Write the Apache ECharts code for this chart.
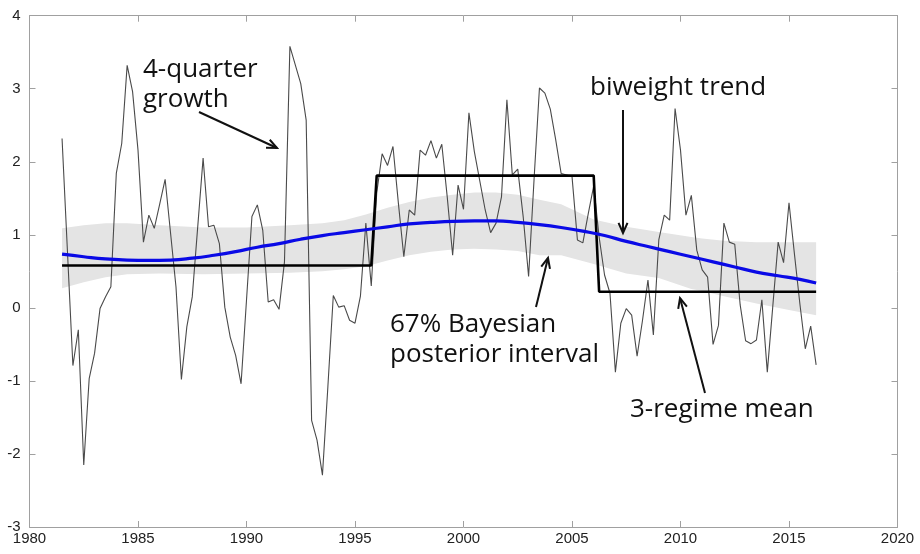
<!DOCTYPE html>
<html>
<head>
<meta charset="utf-8">
<script src="https://cdn.jsdelivr.net/npm/echarts@6/dist/echarts.min.js"></script>
<style>
html,body{margin:0;padding:0;background:#fff;}
#main{width:920px;height:554px;}
</style>
</head>
<body>
<div id="main"></div>
<script>
// ---- data ----
const growthYears = [
1981.5,1982.0,1982.25,1982.5,1982.75,1983.0,1983.25,1983.5,1983.75,1984.0,1984.25,1984.5,1984.75,1985.0,1985.25,1985.5,1985.75,1986.0,1986.25,1986.75,
1987.0,1987.25,1987.5,1988.0,1988.25,1988.5,1988.75,1989.0,1989.25,1989.5,1989.75,1990.25,1990.5,1990.75,1991.0,1991.25,1991.5,1991.75,1992.0,1992.5,
1992.75,1993.0,1993.25,1993.5,1993.75,1994.0,1994.25,1994.5,1994.75,1995.0,1995.25,1995.5,1995.75,1996.0,1996.25,1996.5,1996.75,1997.0,1997.25,1997.5,
1997.75,1998.0,1998.25,1998.5,1998.75,1999.0,1999.25,1999.5,1999.75,2000.0,2000.25,2000.5,2001.0,2001.25,2001.5,2001.75,2002.0,2002.25,2002.5,2002.75,
2003.0,2003.25,2003.5,2003.75,2004.0,2004.25,2004.5,2004.75,2005.0,2005.25,2005.5,2005.75,2006.0,2006.25,2006.5,2006.75,2007.0,2007.25,2007.5,2007.75,
2008.0,2008.25,2008.5,2008.75,2009.0,2009.25,2009.5,2009.75,2010.0,2010.25,2010.5,2010.75,2011.0,2011.25,2011.5,2011.75,2012.0,2012.25,2012.5,2012.75,
2013.0,2013.25,2013.5,2013.75,2014.0,2014.25,2014.5,2014.75,2015.0,2015.25,2015.5,2015.75,2016.0,2016.25];
const growthValues = [
2.32,-0.79,-0.30,-2.15,-0.97,-0.62,-0.01,0.15,0.29,1.84,2.25,3.32,2.96,2.16,0.90,1.27,1.09,1.42,1.76,0.29,
-0.98,-0.26,0.15,2.05,1.11,1.13,0.88,0.01,-0.40,-0.65,-1.04,1.25,1.41,1.06,0.08,0.11,-0.02,0.63,3.58,3.07,
2.57,-1.54,-1.81,-2.29,-1.08,0.17,0.01,0.03,-0.17,-0.21,0.16,1.16,0.30,1.57,2.11,1.95,2.21,1.43,0.70,1.34,
1.27,2.16,2.09,2.29,2.05,2.24,1.52,0.72,1.68,1.35,2.67,2.14,1.34,1.03,1.16,1.52,2.85,1.82,1.90,1.25,
0.43,1.75,3.01,2.94,2.72,2.30,1.84,1.82,1.80,0.93,0.89,1.29,1.67,0.97,0.45,0.20,-0.88,-0.21,-0.01,-0.10,
-0.66,-0.17,0.38,-0.37,0.93,1.27,1.20,2.73,2.16,1.27,1.54,0.79,0.52,0.42,-0.50,-0.24,1.16,0.90,0.87,0.04,
-0.45,-0.49,-0.44,0.11,-0.88,0.01,0.90,0.62,1.44,0.74,0.06,-0.56,-0.25,-0.78];

const trendYears = [1981.5,1982.5,1983.5,1984.5,1985.5,1986.5,1987.5,1988.5,1989.5,1990.5,1991.5,1992.5,1993.5,1994.5,1995.5,1996.5,1997.5,1998.5,
1999.5,2000.5,2001.5,2002.5,2003.5,2004.5,2005.5,2006.5,2007.5,2008.5,2009.5,2010.5,2011.5,2012.5,2013.5,2014.5,2015.5,2016.25];
const trendValues = [0.735,0.70,0.67,0.655,0.65,0.655,0.68,0.72,0.77,0.83,0.88,0.94,0.99,1.03,1.07,1.11,1.15,1.17,
1.185,1.19,1.19,1.17,1.14,1.10,1.05,0.99,0.91,0.84,0.77,0.70,0.63,0.56,0.49,0.44,0.39,0.34];

const bandYears = [1981.5,1982.5,1983.5,1984.5,1986.0,1988.0,1990.0,1992.0,1993.5,1994.5,1995.5,1996.5,1997.5,1998.5,1999.5,2000.5,2001.5,2002.5,
2003.5,2004.5,2006.0,2007.5,2009.0,2010.5,2011.0,2012.0,2013.5,2015.0,2016.25];
const bandUpper = [1.09,1.13,1.16,1.16,1.13,1.10,1.10,1.13,1.16,1.20,1.28,1.37,1.45,1.51,1.55,1.58,1.58,1.55,
1.48,1.42,1.21,1.11,1.04,0.97,0.95,0.92,0.90,0.90,0.90];
const bandLower = [0.27,0.35,0.42,0.46,0.47,0.46,0.47,0.48,0.50,0.53,0.57,0.65,0.72,0.77,0.80,0.81,0.80,0.78,
0.72,0.72,0.60,0.47,0.41,0.26,0.23,0.16,0.06,-0.03,-0.10];

const regimeYears = [1981.5,1995.75,1996.0,2006.0,2006.25,2016.25];
const regimeValues = [0.58,0.58,1.81,1.81,0.22,0.22];

const xTicks = {min:1980,max:2020,step:5};
const yTicks = {min:-3,max:4,step:1};

// ---- build ----
const pairs = (xs, ys) => xs.map((x,i)=>[x, ys[i]]);
const bandRows = bandYears.map((y,i)=>[y, bandUpper[i], bandLower[i]]);

const axisGrey = '#a0a0a0';
const labelStyle = {color:'#222', fontSize:15, fontFamily:'Liberation Sans, Arial, sans-serif', formatter:(v)=>String(v)};
function axisCommon(extra){
  return Object.assign({
    axisLine:{show:true, onZero:false, lineStyle:{color:axisGrey, width:1}},
    axisTick:{show:true, inside:true, length:6, lineStyle:{color:axisGrey}},
    splitLine:{show:false}, z:10
  }, extra);
}

const chart = echarts.init(document.getElementById('main'), null, {renderer:'canvas'});
chart.setOption({
  animation:false,
  backgroundColor:'#fff',
  grid:{left:29.5, right:22.5, top:15.7, bottom:27, containLabel:false},
  xAxis:[
    axisCommon({type:'value', min:xTicks.min, max:xTicks.max, interval:xTicks.step, position:'bottom',
      axisLabel:Object.assign({margin:4}, labelStyle)}),
    axisCommon({type:'value', min:xTicks.min, max:xTicks.max, interval:xTicks.step, position:'top',
      axisLabel:{show:false}})
  ],
  yAxis:[
    axisCommon({type:'value', min:yTicks.min, max:yTicks.max, interval:yTicks.step, position:'left',
      axisLabel:Object.assign({margin:9}, labelStyle)}),
    axisCommon({type:'value', min:yTicks.min, max:yTicks.max, interval:yTicks.step, position:'right',
      axisLabel:{show:false}})
  ],
  series:[
    {name:'67% posterior interval', type:'custom', data:bandRows, z:1, silent:true,
     encode:{x:0, y:[1,2]},
     renderItem:function(params, api){
       if (params.dataIndex !== 0) return null;
       const top = bandRows.map(r=>api.coord([r[0], r[1]]));
       const bot = bandRows.slice().reverse().map(r=>api.coord([r[0], r[2]]));
       return {type:'polygon', shape:{points:top.concat(bot)}, style:{fill:'#e4e4e4', stroke:null}};
     }},
    {name:'4-quarter growth', type:'line', data:pairs(growthYears, growthValues), symbol:'none',
     lineStyle:{color:'#4a4a4a', width:1.1}, z:3},
    {name:'3-regime mean', type:'line', data:pairs(regimeYears, regimeValues), symbol:'none',
     lineStyle:{color:'#000', width:2.6}, z:4},
    {name:'biweight trend', type:'line', data:pairs(trendYears, trendValues), symbol:'none', smooth:true,
     lineStyle:{color:'#0a0ae6', width:3.2}, z:5}
  ]
});

// ---- annotations ----
const fontAnn = '26px "Open Sans", "Noto Sans", sans-serif';
function txt(str, x, y){
  return {type:'text', x:x, y:y, z:10, style:{text:str, font:fontAnn, fill:'#111', textVerticalAlign:'middle'}};
}
function arrow(x1,y1,x2,y2){
  const ang = Math.atan2(y2-y1, x2-x1), L=11, a=0.42;
  const p1=[x2-L*Math.cos(ang-a), y2-L*Math.sin(ang-a)];
  const p2=[x2-L*Math.cos(ang+a), y2-L*Math.sin(ang+a)];
  return [
    {type:'line', z:10, shape:{x1:x1,y1:y1,x2:x2,y2:y2}, style:{stroke:'#111', lineWidth:2}},
    {type:'polyline', z:10, shape:{points:[p1,[x2,y2],p2]}, style:{stroke:'#111', lineWidth:2, fill:null}}
  ];
}
const g = [
  txt('4-quarter', 143, 70),
  txt('growth', 143, 100),
  txt('biweight trend', 590, 88),
  txt('67% Bayesian', 390, 325),
  txt('posterior interval', 390, 355),
  txt('3-regime mean', 630, 410)
].concat(arrow(199,112,277,148), arrow(623,110,623,233), arrow(536,307,548,258), arrow(705,393,680,298));
chart.setOption({graphic:{elements:g}});
</script>
</body>
</html>
